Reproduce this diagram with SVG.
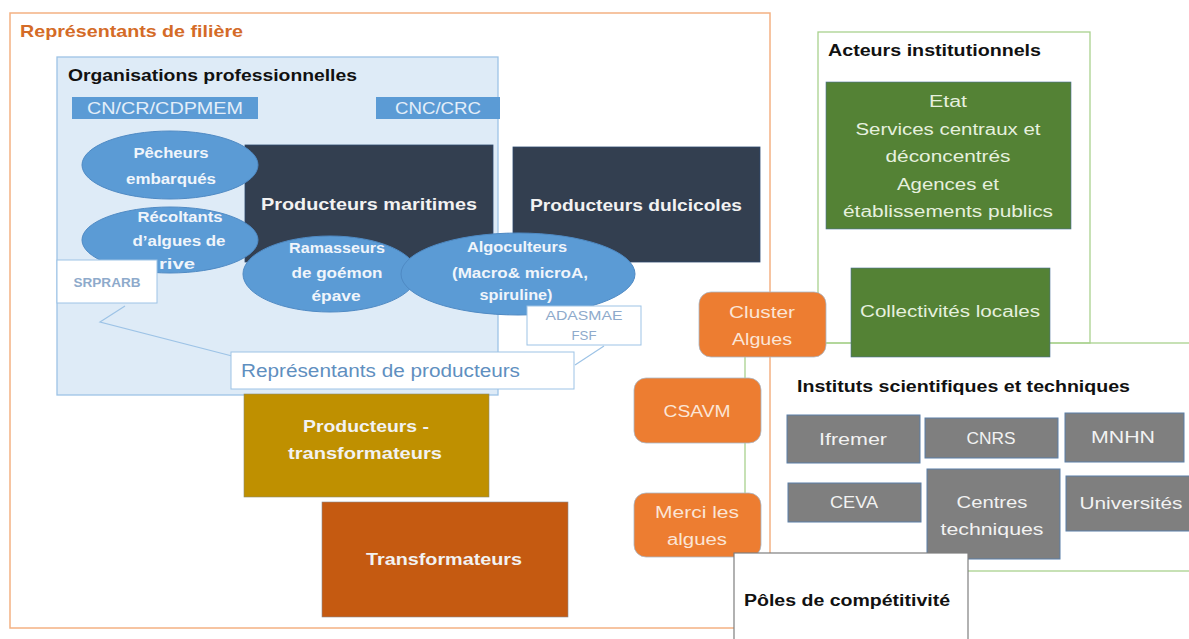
<svg xmlns="http://www.w3.org/2000/svg" width="1189" height="639" viewBox="0 0 1189 639">
<style>
text{font-family:"Liberation Sans",Arial,sans-serif;}
.b{font-weight:bold;}
.c{text-anchor:middle;}
.ttl{font-size:16px;font-weight:bold;fill:#111;}
.lbl{fill:#5b9bd5;}
.lbt{font-size:16px;fill:#e3eef9;}
.dark{fill:#333f50;stroke:#2e4a6e;stroke-width:0.8;}
.dt{font-size:17px;font-weight:bold;fill:#f2f2f2;}
.ell{fill:#5b9bd5;stroke:#4f8ac4;stroke-width:1;}
.et{font-size:14px;font-weight:bold;fill:#f0f5fb;}
.call{fill:#fff;stroke:#9dc3e6;stroke-width:1;}
.green{fill:#548235;stroke:#4a7096;stroke-width:0.6;}
.gt{font-size:16px;fill:#e6f0df;}
.or{fill:#ed7d31;stroke:#a8b8c8;stroke-width:0.8;}
.ot{font-size:16px;fill:#fbe5d6;}
.grey{fill:#7f7f7f;stroke:#5b7fa8;stroke-width:1;}
.gyt{font-size:16px;fill:#f2f2f2;}
.frame{fill:none;}
</style>
<rect width="1189" height="639" fill="#fff"/>

<g id="frame-filiere">
<rect x="10" y="13" width="760" height="615" class="frame" stroke="#f4b183" stroke-width="1.5"/>
<text x="20" y="37" class="b" font-size="17" fill="#d46b27" textLength="223" lengthAdjust="spacingAndGlyphs">Représentants de filière</text>
</g>

<g id="frame-acteurs">
<rect x="818" y="32" width="272" height="311" class="frame" stroke="#a9d18e" stroke-width="1.3"/>
<text x="828" y="56" class="ttl" textLength="213" lengthAdjust="spacingAndGlyphs">Acteurs institutionnels</text>
</g>

<g id="frame-instituts">
<rect x="745" y="343" width="460" height="228" class="frame" stroke="#a9d18e" stroke-width="1.3"/>
<text x="797" y="392" class="ttl" textLength="333" lengthAdjust="spacingAndGlyphs">Instituts scientifiques et techniques</text>
</g>

<g id="organisations">
<rect x="57" y="57" width="441" height="338" fill="#deebf7" stroke="#9dc3e6" stroke-width="1.3"/>
<text x="68" y="81" class="ttl" textLength="289" lengthAdjust="spacingAndGlyphs">Organisations professionnelles</text>
</g>

<g id="cn-cr">
<rect x="72" y="97" width="186" height="22" class="lbl"/>
<text x="165" y="114" class="lbt c" textLength="156" lengthAdjust="spacingAndGlyphs">CN/CR/CDPMEM</text>
</g>
<g id="cnc-crc">
<rect x="376" y="97" width="124" height="22" class="lbl"/>
<text x="438" y="114" class="lbt c" textLength="86" lengthAdjust="spacingAndGlyphs">CNC/CRC</text>
</g>

<g id="prod-maritimes">
<rect x="245" y="145" width="248" height="117" class="dark"/>
<text x="369" y="210" class="dt c" textLength="216" lengthAdjust="spacingAndGlyphs">Producteurs maritimes</text>
</g>
<g id="prod-dulcicoles">
<rect x="513" y="147" width="247" height="115" class="dark"/>
<text x="636" y="211" class="dt c" textLength="212" lengthAdjust="spacingAndGlyphs">Producteurs dulcicoles</text>
</g>

<g id="pecheurs">
<ellipse cx="170" cy="165" rx="88" ry="34" class="ell"/>
<text x="171" y="158" class="et c" font-size="15" textLength="75" lengthAdjust="spacingAndGlyphs">Pêcheurs</text>
<text x="171" y="184" class="et c" font-size="15" textLength="90" lengthAdjust="spacingAndGlyphs">embarqués</text>
</g>
<g id="recoltants">
<ellipse cx="170" cy="240" rx="88" ry="33" class="ell"/>
<text x="180" y="222" class="et c" font-size="15" textLength="85" lengthAdjust="spacingAndGlyphs">Récoltants</text>
<text x="179" y="246" class="et c" font-size="15" textLength="93" lengthAdjust="spacingAndGlyphs">d’algues de</text>
<text x="177" y="269" class="et c" font-size="15" textLength="36" lengthAdjust="spacingAndGlyphs">rive</text>
</g>
<g id="ramasseurs">
<ellipse cx="330" cy="274" rx="87" ry="38" class="ell"/>
<text x="337" y="253" class="et c" font-size="15" textLength="96" lengthAdjust="spacingAndGlyphs">Ramasseurs</text>
<text x="337" y="278" class="et c" font-size="15" textLength="91" lengthAdjust="spacingAndGlyphs">de goémon</text>
<text x="336" y="301" class="et c" font-size="15" textLength="49" lengthAdjust="spacingAndGlyphs">épave</text>
</g>
<g id="algoculteurs">
<ellipse cx="518" cy="274" rx="117" ry="41" class="ell"/>
<text x="517" y="252" class="et c" font-size="15" textLength="100" lengthAdjust="spacingAndGlyphs">Algoculteurs</text>
<text x="520" y="278" class="et c" font-size="15" textLength="136" lengthAdjust="spacingAndGlyphs">(Macro&amp;  microA,</text>
<text x="516" y="300" class="et c" font-size="15" textLength="73" lengthAdjust="spacingAndGlyphs">spiruline)</text>
</g>

<g id="connectors" fill="none" stroke="#9dc3e6" stroke-width="1.2">
<polyline points="125,306 100,322 232,356"/>
<polyline points="604,346 575,365"/>
</g>

<g id="srprarb">
<rect x="57" y="260" width="100" height="43" class="call"/>
<text x="107" y="287" class="c b" font-size="13" fill="#8eaacb" textLength="67" lengthAdjust="spacingAndGlyphs">SRPRARB</text>
</g>
<g id="adasmae">
<rect x="527" y="306" width="114" height="39" class="call"/>
<text x="584" y="320" class="c" font-size="13" fill="#8eaacb" textLength="77" lengthAdjust="spacingAndGlyphs">ADASMAE</text>
<text x="584" y="340" class="c" font-size="13" fill="#8eaacb" textLength="25" lengthAdjust="spacingAndGlyphs">FSF</text>
</g>
<g id="representants-producteurs">
<rect x="231" y="352" width="343" height="37" class="call"/>
<text x="241" y="377" font-size="18" fill="#5f8fc0" textLength="279" lengthAdjust="spacingAndGlyphs">Représentants de producteurs</text>
</g>

<g id="prod-transformateurs">
<rect x="244" y="394" width="245" height="103" fill="#bf9000" stroke="#8a8a70" stroke-width="0.6"/>
<text x="366" y="432" class="dt c" textLength="126" lengthAdjust="spacingAndGlyphs">Producteurs -</text>
<text x="365" y="459" class="dt c" textLength="154" lengthAdjust="spacingAndGlyphs">transformateurs</text>
</g>
<g id="transformateurs">
<rect x="322" y="502" width="246" height="115" fill="#c55a11" stroke="#8a8a90" stroke-width="0.6"/>
<text x="444" y="565" class="dt c" textLength="156" lengthAdjust="spacingAndGlyphs">Transformateurs</text>
</g>

<g id="etat">
<rect x="826" y="82" width="245" height="147" class="green"/>
<text x="948" y="107" class="gt c" textLength="38" lengthAdjust="spacingAndGlyphs">Etat</text>
<text x="948" y="135" class="gt c" textLength="185" lengthAdjust="spacingAndGlyphs">Services centraux et</text>
<text x="948" y="162" class="gt c" textLength="125" lengthAdjust="spacingAndGlyphs">déconcentrés</text>
<text x="948" y="190" class="gt c" textLength="102" lengthAdjust="spacingAndGlyphs">Agences et</text>
<text x="948" y="217" class="gt c" textLength="210" lengthAdjust="spacingAndGlyphs">établissements publics</text>
</g>
<g id="collectivites">
<rect x="851" y="268" width="199" height="89" class="green"/>
<text x="950" y="317" class="gt c" textLength="180" lengthAdjust="spacingAndGlyphs">Collectivités locales</text>
</g>

<g id="cluster-algues">
<rect x="699" y="292" width="127" height="65" rx="12" class="or"/>
<text x="762" y="318" class="ot c" textLength="66" lengthAdjust="spacingAndGlyphs">Cluster</text>
<text x="762" y="345" class="ot c" textLength="60" lengthAdjust="spacingAndGlyphs">Algues</text>
</g>
<g id="csavm">
<rect x="634" y="378" width="127" height="65" rx="12" class="or"/>
<text x="697" y="417" class="ot c" textLength="67" lengthAdjust="spacingAndGlyphs">CSAVM</text>
</g>
<g id="merci-les-algues">
<rect x="634" y="493" width="127" height="64" rx="12" class="or"/>
<text x="697" y="518" class="ot c" textLength="84" lengthAdjust="spacingAndGlyphs">Merci les</text>
<text x="697" y="545" class="ot c" textLength="60" lengthAdjust="spacingAndGlyphs">algues</text>
</g>

<g id="ifremer">
<rect x="787" y="415" width="133" height="48" class="grey"/>
<text x="853" y="445" class="gyt c" textLength="68" lengthAdjust="spacingAndGlyphs">Ifremer</text>
</g>
<g id="cnrs">
<rect x="925" y="418" width="133" height="40" class="grey"/>
<text x="991" y="444" class="gyt c" textLength="49" lengthAdjust="spacingAndGlyphs">CNRS</text>
</g>
<g id="mnhn">
<rect x="1065" y="413" width="119" height="49" class="grey"/>
<text x="1123" y="443" class="gyt c" textLength="64" lengthAdjust="spacingAndGlyphs">MNHN</text>
</g>
<g id="ceva">
<rect x="788" y="483" width="133" height="39" class="grey"/>
<text x="854" y="508" class="gyt c" textLength="48" lengthAdjust="spacingAndGlyphs">CEVA</text>
</g>
<g id="centres-techniques">
<rect x="927" y="469" width="133" height="90" class="grey"/>
<text x="992" y="508" class="gyt c" textLength="71" lengthAdjust="spacingAndGlyphs">Centres</text>
<text x="992" y="535" class="gyt c" textLength="103" lengthAdjust="spacingAndGlyphs">techniques</text>
</g>
<g id="universites">
<rect x="1066" y="476" width="130" height="55" class="grey"/>
<text x="1131" y="509" class="gyt c" textLength="103" lengthAdjust="spacingAndGlyphs">Universités</text>
</g>

<g id="poles">
<rect x="734" y="553" width="234" height="100" fill="#fff" stroke="#7f7f7f" stroke-width="1.2"/>
<text x="744" y="606" class="ttl" textLength="206" lengthAdjust="spacingAndGlyphs">Pôles de compétitivité</text>
</g>
</svg>
